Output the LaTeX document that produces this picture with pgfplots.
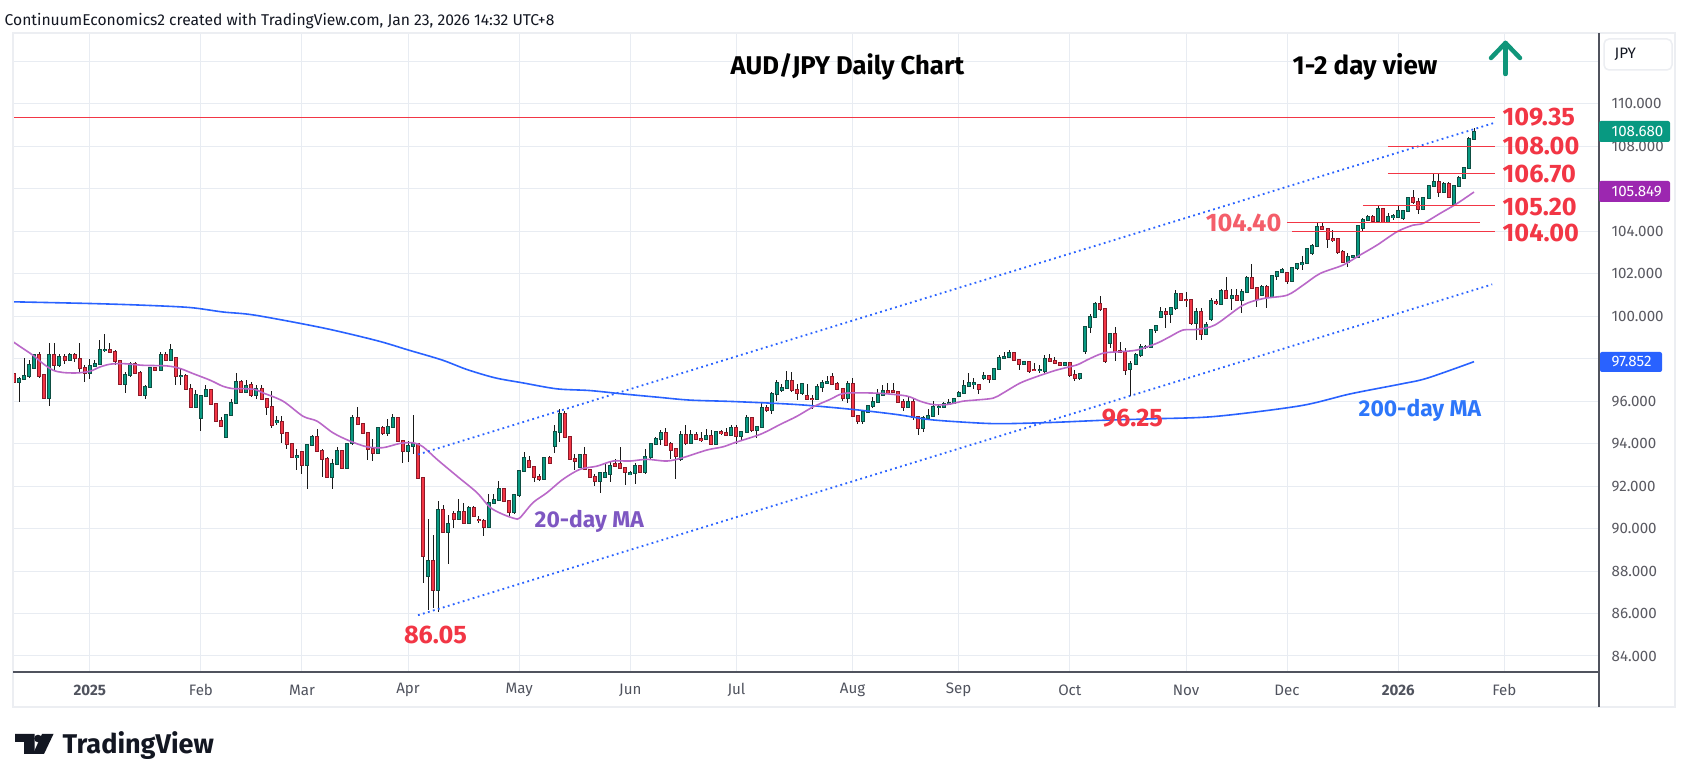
\documentclass[border=0pt]{standalone}
\usepackage{pgfplots}
\usepackage{pgfplotstable}
\pgfplotsset{compat=1.18}
\usepackage{fontspec}
\setmainfont{Fira Sans}
\definecolor{upc}{HTML}{089981}
\definecolor{dnc}{HTML}{F23645}
\definecolor{upb}{RGB}{14,78,66}
\definecolor{dnb}{RGB}{140,25,40}
\definecolor{wick}{RGB}{25,25,25}
\definecolor{gridc}{RGB}{232,236,242}
\definecolor{lvl}{HTML}{F23645}
\definecolor{tvblue}{HTML}{2962FF}
\definecolor{ma20}{RGB}{186,104,200}
\definecolor{tagpurple}{HTML}{9C27B0}
\definecolor{lab20}{RGB}{126,87,194}
\definecolor{lab200}{RGB}{45,118,250}
\definecolor{axisc}{RGB}{80,83,94}
\definecolor{framec}{RGB}{236,238,242}
\definecolor{txt}{HTML}{131722}
\definecolor{scaletxt}{RGB}{90,90,98}
\definecolor{arrowc}{RGB}{16,150,122}

\pgfplotstableread{
i o h l c
2 96.91 97.15 95.97 97.06
3 97.06 98.05 97.00 97.17
4 97.17 97.93 97.10 97.69
5 97.54 98.20 97.50 98.16
8 96.17 98.74 95.76 98.16
10 97.69 98.24 97.60 98.08
12 97.96 98.27 97.90 98.16
16 97.33 98.01 97.06 97.65
17 97.65 97.96 97.60 97.74
18 97.74 98.90 97.69 98.40
19 98.40 99.15 98.32 98.43
23 96.83 97.38 96.39 97.22
24 97.22 97.85 97.15 97.77
27 96.28 96.75 96.08 96.67
28 96.67 97.60 96.60 97.54
30 97.46 98.32 97.40 98.16
32 97.96 98.71 97.90 98.40
34 97.17 97.54 96.75 97.20
37 95.73 96.51 95.70 96.28
38 95.23 96.30 94.60 96.25
39 96.25 96.75 96.20 96.51
43 94.29 95.36 94.27 95.34
44 95.34 96.08 95.30 95.92
45 95.92 97.33 95.86 96.91
47 96.44 96.99 96.40 96.70
49 96.27 96.78 96.11 96.58
53 95.01 95.29 94.90 95.06
57 93.38 93.73 92.76 93.41
59 93.01 93.96 91.88 93.93
60 93.93 94.43 93.90 94.32
64 92.44 93.29 91.88 93.05
65 93.05 93.85 93.00 93.65
67 92.87 94.05 92.79 93.99
68 94.04 95.37 93.96 95.22
73 93.54 94.80 93.50 94.75
75 94.48 95.17 94.35 94.78
76 94.78 95.42 94.75 95.22
79 93.65 94.12 93.13 93.88
80 93.88 95.33 93.49 93.96
83 87.77 90.47 86.17 88.45
85 87.10 91.30 86.05 90.87
87 89.84 90.62 88.32 90.20
89 90.44 91.41 90.40 90.78
91 90.28 91.06 90.20 90.98
95 90.09 91.61 90.05 91.22
96 91.22 91.61 91.15 91.34
97 91.34 92.24 91.30 91.88
100 90.78 91.60 90.70 91.56
101 91.56 92.76 91.50 92.71
102 92.71 93.60 92.65 93.34
106 92.35 93.38 92.30 93.34
108 93.88 94.90 93.54 94.54
109 94.54 95.61 94.07 95.40
113 92.91 93.50 92.85 93.46
117 92.24 92.65 91.69 92.60
118 92.44 93.07 92.40 92.60
119 92.58 93.18 92.19 92.97
123 92.55 92.70 92.50 92.63
124 92.63 93.07 92.08 92.94
126 92.66 93.76 92.55 93.38
127 93.38 94.05 93.30 93.99
128 93.99 94.32 93.95 94.20
129 94.20 94.64 93.92 94.48
133 93.26 94.59 93.20 94.39
135 94.01 94.64 93.96 94.42
138 94.20 94.70 94.15 94.35
140 93.99 94.60 93.95 94.54
143 94.39 94.90 94.35 94.75
145 94.35 94.60 94.19 94.54
146 94.54 95.37 94.50 95.21
148 94.63 94.85 94.27 94.79
149 94.79 95.95 94.75 95.69
151 95.57 96.43 95.42 96.36
152 96.36 97.02 96.00 96.87
153 96.52 96.79 96.45 96.63
154 96.63 97.42 96.58 96.94
157 96.39 96.85 96.30 96.79
160 96.11 96.79 96.05 96.68
161 96.68 96.99 96.43 96.87
162 96.87 97.21 96.82 96.91
166 96.16 96.94 95.92 96.82
169 95.06 95.55 94.94 95.50
170 95.50 95.84 95.45 95.76
171 95.76 96.20 95.70 95.97
172 95.97 96.55 95.90 96.31
173 96.31 96.74 96.25 96.47
178 95.73 96.20 95.70 95.95
181 94.74 95.32 94.54 95.21
182 95.21 95.61 95.15 95.29
183 95.29 96.00 95.25 95.73
184 95.73 95.84 95.37 95.74
185 95.73 95.95 95.69 95.87
186 95.87 96.08 95.85 95.92
187 95.92 96.16 95.88 96.11
188 96.24 96.47 96.20 96.39
189 96.39 96.99 96.35 96.71
190 96.71 97.31 96.65 96.87
191 96.79 97.10 96.58 96.87
193 97.08 97.36 97.00 97.21
195 97.04 97.55 97.00 97.51
196 97.51 98.18 97.45 98.02
197 98.02 98.33 97.98 98.10
198 98.10 98.41 98.05 98.29
201 97.76 97.90 97.70 97.83
204 97.45 97.71 97.32 97.47
205 97.40 98.18 97.35 97.97
209 97.71 97.86 97.65 97.79
212 97.08 97.35 97.00 97.29
213 98.38 99.54 98.23 99.48
214 99.48 100.10 99.20 99.98
215 99.98 100.65 99.90 100.57
218 98.73 99.20 98.50 99.16
222 97.51 97.87 96.25 97.76
223 97.76 98.25 97.70 98.18
224 98.18 98.70 98.10 98.54
225 98.54 98.65 98.45 98.56
226 98.54 99.42 98.50 99.35
227 99.35 99.59 99.23 99.54
228 99.98 100.42 99.90 100.18
230 100.10 100.45 99.67 100.37
231 100.37 101.23 100.30 101.03
235 99.67 100.37 98.88 100.18
237 99.16 99.74 99.10 99.59
238 99.85 100.84 99.80 100.71
240 100.60 101.27 100.55 101.19
242 100.88 101.27 100.28 100.96
244 100.75 101.27 100.17 101.14
245 101.14 101.90 101.10 101.82
248 101.02 101.46 100.95 101.38
250 100.91 101.93 100.85 101.90
251 101.90 102.15 101.70 102.09
252 102.09 102.28 102.05 102.20
254 101.67 102.33 101.60 102.25
255 102.25 102.50 102.20 102.45
256 102.44 102.85 102.17 102.49
257 102.49 103.22 102.45 103.16
258 102.96 103.38 102.90 103.30
259 103.30 104.42 103.25 104.18
265 102.56 102.96 102.33 102.80
266 102.80 102.90 102.75 102.83
267 102.80 104.30 102.75 104.25
268 104.17 104.64 103.95 104.53
269 104.53 104.75 104.50 104.69
271 104.49 105.19 104.45 105.03
273 104.45 104.87 104.40 104.69
274 104.69 104.80 104.53 104.70
275 104.69 105.24 104.65 104.97
276 104.61 105.00 104.55 104.97
277 104.97 105.60 104.90 105.55
280 105.05 105.60 105.00 105.55
281 105.55 106.20 105.50 106.13
282 106.13 106.68 106.10 106.30
284 105.86 106.30 105.80 106.21
286 105.27 106.20 105.20 106.14
287 106.14 106.60 106.10 106.52
288 106.52 107.05 106.45 106.99
289 106.99 108.46 106.95 108.33
290 108.33 108.85 108.30 108.68
}\up

\pgfplotstableread{
i o h l c
1 97.30 97.46 96.44 96.91
6 98.16 98.32 97.11 97.17
7 97.22 97.30 96.15 96.17
9 98.16 98.74 97.43 97.69
11 98.08 98.21 97.77 97.96
13 98.16 98.27 97.85 98.05
14 98.01 98.74 97.33 97.54
15 97.54 97.69 96.91 97.33
20 98.43 98.74 98.27 98.32
21 98.32 98.40 97.69 97.88
22 97.88 97.95 96.80 96.83
25 97.77 97.85 97.30 97.33
26 97.33 97.40 96.25 96.28
29 97.54 97.60 97.40 97.46
31 98.16 98.32 97.90 97.96
33 98.05 98.10 96.75 97.17
35 97.20 97.27 96.51 96.59
36 96.59 96.83 95.70 95.73
40 96.51 96.59 95.80 95.86
41 95.86 95.90 95.00 95.07
42 95.07 95.26 94.79 94.85
46 96.91 96.99 96.40 96.44
48 96.74 96.91 96.20 96.27
50 96.58 96.78 96.05 96.11
51 96.08 96.12 95.33 95.73
52 95.73 96.47 94.75 94.86
54 95.01 95.29 94.04 94.51
55 94.51 94.55 93.76 93.99
56 93.99 94.05 93.34 93.38
58 93.60 93.65 92.55 93.01
61 94.32 94.70 93.60 93.65
62 93.65 93.73 92.44 93.29
63 93.29 93.38 92.40 92.44
66 93.65 93.70 92.80 92.87
69 95.22 95.73 94.88 94.93
70 94.93 94.98 94.45 94.51
71 94.51 94.55 93.23 93.76
72 93.76 94.23 93.18 93.57
74 94.75 94.82 94.42 94.48
77 95.22 95.27 94.08 94.12
78 94.12 94.18 93.10 93.65
81 93.96 94.00 92.35 92.39
82 92.39 92.45 87.43 88.71
84 88.45 89.68 86.28 87.10
86 90.87 91.09 89.80 89.84
88 90.70 90.83 90.04 90.44
90 90.78 91.22 90.20 90.28
92 90.98 91.05 90.55 90.59
93 90.42 90.59 90.28 90.40
94 90.36 90.47 89.65 90.09
98 91.88 91.93 91.25 91.30
99 91.30 91.35 90.59 90.78
103 93.18 93.41 92.85 92.91
104 92.91 92.96 92.19 92.44
105 92.44 92.55 92.24 92.35
107 93.34 93.41 93.05 93.10
110 95.40 95.53 94.28 94.32
111 94.32 94.36 93.25 93.29
112 93.29 93.49 92.76 93.18
114 93.46 93.85 92.75 92.79
115 92.76 92.80 92.40 92.44
116 92.44 92.55 92.00 92.24
120 93.05 93.26 92.90 92.97
121 93.05 93.85 92.80 92.87
122 92.87 92.90 92.03 92.66
125 92.94 93.00 92.60 92.66
130 94.48 94.75 93.88 93.92
131 93.96 94.07 93.29 93.70
132 93.73 93.78 92.35 93.41
134 94.39 94.86 93.96 94.01
136 94.42 94.54 94.18 94.23
137 94.23 94.54 94.10 94.15
139 94.35 94.64 93.95 93.99
141 94.54 94.64 94.42 94.48
142 94.48 94.75 94.38 94.43
144 94.74 94.90 94.00 94.35
147 95.21 95.26 94.55 94.63
150 95.69 95.80 95.50 95.57
155 96.94 97.37 96.45 96.52
156 96.52 96.79 96.05 96.39
158 96.24 96.79 96.05 96.11
159 96.12 96.27 95.64 96.10
163 97.15 97.31 96.75 96.82
164 96.82 96.90 96.52 96.58
165 96.58 96.62 96.00 96.16
167 96.82 97.10 95.25 95.29
168 95.29 95.33 94.94 95.06
174 96.47 96.87 96.40 96.44
175 96.50 96.87 96.38 96.43
176 96.43 96.47 95.90 95.95
177 95.95 96.11 95.53 95.73
179 95.95 96.08 95.13 95.26
180 95.26 95.30 94.43 94.74
192 96.77 96.80 96.33 96.57
194 97.21 97.25 96.85 97.04
199 98.29 98.33 97.90 97.94
200 97.94 97.98 97.47 97.76
202 97.83 97.88 97.35 97.44
203 97.47 97.79 97.40 97.45
206 97.97 98.23 97.85 97.91
207 97.91 98.10 97.78 97.82
208 97.82 97.86 97.65 97.71
210 97.79 97.86 97.13 97.24
211 97.24 97.47 96.93 97.08
216 100.57 100.95 100.25 100.32
217 100.32 100.40 97.80 97.87
219 99.16 99.51 97.87 98.38
220 98.38 98.80 98.30 98.33
221 98.33 98.49 97.24 97.47
229 100.18 100.37 99.43 100.10
232 101.03 101.10 100.70 100.76
233 100.76 101.15 100.42 100.75
234 100.76 100.80 99.60 99.67
236 100.18 100.37 98.88 99.16
239 100.68 100.83 100.55 100.60
241 101.19 101.86 100.80 100.88
243 100.96 101.30 100.70 100.75
246 101.82 102.48 101.30 101.35
247 101.35 101.40 100.44 100.83
249 101.38 101.46 100.39 100.91
253 102.04 102.10 101.54 101.67
260 104.18 104.42 104.05 104.10
261 104.10 104.15 103.22 103.62
262 103.62 104.05 103.50 103.58
263 103.62 103.70 102.95 103.03
264 103.03 103.11 102.50 102.56
270 104.69 104.75 104.45 104.49
272 105.03 105.08 104.40 104.45
278 105.55 105.94 105.30 105.36
279 105.36 105.55 104.80 105.05
283 106.30 106.68 105.63 105.86
285 106.21 106.30 105.55 105.63
}\down

\pgfplotstableread{
i p
0.86 98.79
2.78 98.48
4.76 98.16
6.74 97.77
8.72 97.46
10.70 97.35
13.47 97.33
16.04 97.41
18.02 97.61
20.00 97.74
22.58 97.77
26.53 97.69
31.28 97.66
33.86 97.54
36.43 97.30
39.80 96.99
42.37 96.70
44.35 96.59
46.33 96.59
48.70 96.55
50.29 96.39
54.25 96.00
58.21 95.29
60.98 95.06
64.14 94.51
67.51 94.12
70.87 93.85
74.04 93.81
77.40 94.01
79.98 94.04
81.96 93.85
84.73 93.26
88.69 92.47
92.65 91.69
95.22 91.00
97.79 90.67
100.17 90.47
101.16 90.51
103.73 91.22
106.50 91.69
109.67 92.32
113.03 92.79
116.40 92.94
119.57 93.18
122.93 93.18
126.30 93.26
130.26 93.18
133.42 93.34
138.17 93.70
141.34 93.85
143.72 94.05
148.07 94.38
150.05 94.58
152.63 94.90
155.99 95.29
159.16 95.73
162.52 96.08
165.10 96.36
169.05 96.39
173.01 96.36
177.76 96.24
180.34 96.00
182.91 95.84
185.68 95.84
188.85 96.00
191.22 96.05
194.79 96.14
196.76 96.38
200.13 96.85
203.49 97.16
207.45 97.47
211.41 97.71
213.39 97.94
216.56 98.26
219.92 98.33
223.29 98.41
227.25 98.73
229.82 99.04
232.39 99.35
235.16 99.38
238.73 99.59
244.27 100.52
248.23 100.83
252.98 100.99
256.15 101.46
259.51 102.01
264.07 102.41
267.43 102.88
270.80 103.35
274.76 103.98
277.92 104.29
279.90 104.37
283.27 104.84
286.64 105.31
290.00 105.85
}\maA

\pgfplotstableread{
i p
0.80 100.68
16.04 100.60
26.53 100.52
35.84 100.41
42.37 100.20
48.70 100.05
62.16 99.45
72.85 98.85
79.19 98.40
85.72 97.94
90.67 97.49
96.21 97.10
101.75 96.86
108.48 96.58
115.01 96.50
121.55 96.34
128.28 96.19
134.81 96.05
143.72 95.98
155.99 95.84
167.07 95.61
175.78 95.37
182.31 95.13
191.22 94.98
196.76 94.94
206.66 95.00
216.56 95.10
226.45 95.17
238.73 95.28
255.55 95.78
265.45 96.34
275.35 96.80
280.69 97.08
290.00 97.86
}\maB

\newcommand{\candles}[3]{%
  \addplot[draw=none, mark=none, forget plot,
    error bars/.cd, y dir=both, y explicit, error mark=none,
    error bar style={line width=0.1mm, draw=wick}]
    table[x=i, y expr={(\thisrow{h}+\thisrow{l})/2}, y error expr={(\thisrow{h}-\thisrow{l})/2}] {#1};
  \addplot[draw=none, mark=none, forget plot,
    error bars/.cd, y dir=both, y explicit, error mark=none,
    error bar style={line width=0.4mm, draw=#3}]
    table[x=i, y expr={(\thisrow{o}+\thisrow{c})/2}, y error expr={abs(\thisrow{c}-\thisrow{o})/2+0.047}] {#1};
  \addplot[draw=none, mark=none, forget plot,
    error bars/.cd, y dir=both, y explicit, error mark=none,
    error bar style={line width=0.2mm, draw=#2}]
    table[x=i, y expr={(\thisrow{o}+\thisrow{c})/2}, y error expr={abs(\thisrow{c}-\thisrow{o})/2}] {#1};
}

\begin{document}
\begin{tikzpicture}
\begin{scope}[x=0.1mm,y=-0.1mm]
  \fill[white] (0,0) rectangle (1689,782);
  \path[use as bounding box] (0,0) rectangle (1689,782);
\end{scope}

\begin{axis}[
  at={(1.3mm,-67.2mm)}, anchor=south west,
  width=158.6mm, height=63.9mm, scale only axis,
  xmin=0.802, xmax=314.74, ymin=83.245, ymax=113.34,
  axis line style={draw=none},
  xtick={16,38,58,79,101,123,144,167,188,210,233,253,275,296},
  xticklabels={\textbf{2025},Feb,Mar,Apr,May,Jun,Jul,Aug,Sep,Oct,Nov,Dec,\textbf{2026},Feb},
  ytick={84,86,...,112},
  yticklabels={84.000,86.000,88.000,90.000,92.000,94.000,96.000,98.000,100.000,102.000,104.000,106.000,108.000,110.000,{}},
  yticklabel pos=right,
  major tick length=0pt,
  grid=major,
  grid style={draw=gridc, line width=0.1mm},
  xticklabel style={anchor=center, yshift=-1.8mm, inner sep=0pt, font=\fontsize{4.3pt}{5pt}\selectfont, text=axisc},
  yticklabel style={anchor=west, xshift=1.2mm, inner sep=0pt, font=\fontsize{4.3pt}{5pt}\selectfont, text=scaletxt},
]
\candles{\up}{upc}{upb}
\candles{\down}{dnc}{dnb}
% moving averages
\addplot[tvblue, line width=0.16mm, smooth, mark=none] table[x=i, y=p] {\maB};
\addplot[ma20, line width=0.16mm, smooth, mark=none] table[x=i, y=p] {\maA};
% channel
\addplot[tvblue, line width=0.18mm, dash pattern=on 0.18mm off 0.34mm, mark=none] coordinates {(80.97,93.49) (293.8,109.09)};
\addplot[tvblue, line width=0.18mm, dash pattern=on 0.18mm off 0.34mm, mark=none] coordinates {(80.97,85.92) (293.6,101.50)};
% levels
\addplot[lvl, line width=0.1mm, mark=none] coordinates {(0.802,109.35) (294.15,109.35)};
\addplot[lvl, line width=0.1mm, mark=none] coordinates {(272.97,108.00) (294.15,108.00)};
\addplot[lvl, line width=0.1mm, mark=none] coordinates {(272.97,106.70) (294.15,106.70)};
\addplot[lvl, line width=0.1mm, mark=none] coordinates {(268.0,105.20) (294.15,105.20)};
\addplot[lvl, line width=0.1mm, mark=none] coordinates {(252.98,104.40) (291.18,104.40)};
\addplot[lvl, line width=0.1mm, mark=none] coordinates {(253.97,104.00) (294.15,104.00)};
\end{axis}

\begin{scope}[x=0.1mm,y=-0.1mm]
  % frame
  \draw[framec, line width=0.25mm] (13,33) rectangle (1675,707);
  \draw[axisc, line width=0.14mm] (13,672) -- (1599,672);
  \draw[axisc, line width=0.14mm] (1599,33) -- (1599,707);
  % header
  \node[anchor=base west, inner sep=0pt, text=txt, font=\fontsize{4.45pt}{5.5pt}\selectfont] at (4,26) {ContinuumEconomics2 created with TradingView.com, Jan 23, 2026 14:32 UTC+8};
  % titles
  \node[anchor=base west, inner sep=0pt, text=black, font=\fontsize{7.3pt}{8pt}\selectfont\bfseries] at (730,75) {AUD/JPY Daily Chart};
  \node[anchor=base west, inner sep=0pt, text=black, font=\fontsize{7.4pt}{8pt}\selectfont\bfseries] at (1292,75) {1-2 day view};
  % arrow
  \draw[arrowc, line width=0.45mm, line cap=round, line join=round] (1505.5,74) -- (1505.5,43);
  \draw[arrowc, line width=0.45mm, line cap=round, line join=round] (1491,58) -- (1505.5,43) -- (1520,58);
  % JPY box
  \draw[framec, fill=white, line width=0.15mm, rounded corners=0.5mm] (1604,39) rectangle (1672,70);
  \node[anchor=west, inner sep=0pt, text=txt, font=\fontsize{4.3pt}{5pt}\selectfont] at (1614,54.5) {JPY};
  % level labels
  \begin{scope}[every node/.style={inner sep=0pt, text=lvl, font=\fontsize{7.2pt}{8pt}\selectfont\bfseries}]
    \node[anchor=west] at (1502,117) {109.35};
    \node[anchor=west] at (1502,145.7) {108.00};
    \node[anchor=west] at (1502,174) {106.70};
    \node[anchor=west] at (1502,206.7) {105.20};
    \node[anchor=west] at (1502,233) {104.00};
    \node[anchor=east, text opacity=0.8] at (1282,222.7) {104.40};
    \node[anchor=center] at (1132.5,418.3) {96.25};
    \node[anchor=center] at (435.5,635) {86.05};
  \end{scope}
  % MA labels
  \node[anchor=base west, inner sep=0pt, text=lab20, font=\fontsize{6.5pt}{8pt}\selectfont\bfseries] at (534,528) {20-day MA};
  \node[anchor=base west, inner sep=0pt, text=lab200, font=\fontsize{6.5pt}{8pt}\selectfont\bfseries] at (1358,417) {200-day MA};
  % price tags
  \fill[upc, rounded corners=0.2mm] (1599,121) rectangle (1670,142);
  \node[anchor=west, inner sep=0pt, text=white, font=\fontsize{4.3pt}{5pt}\selectfont] at (1611,131.5) {108.680};
  \fill[tagpurple, rounded corners=0.2mm] (1599,181) rectangle (1670,202);
  \node[anchor=west, inner sep=0pt, text=white, font=\fontsize{4.3pt}{5pt}\selectfont] at (1611,191.5) {105.849};
  \fill[tvblue, rounded corners=0.2mm] (1600,352) rectangle (1662,372);
  \node[anchor=west, inner sep=0pt, text=white, font=\fontsize{4.3pt}{5pt}\selectfont] at (1611,362) {97.852};
  % logo
  \fill[txt] (15,734) -- (34.5,734) -- (34.5,754) -- (24,754) -- (24,742) -- (15,742) -- cycle;
  \fill[txt] (38,738.5) circle (3.8);
  \fill[txt] (42,734) -- (53.5,734) -- (44,754) -- (33,754) -- cycle;
  \node[anchor=base west, inner sep=0pt, text=txt, font=\fontsize{7.7pt}{8pt}\selectfont\bfseries] at (62,754) {TradingView};
\end{scope}
\end{tikzpicture}
\end{document}
